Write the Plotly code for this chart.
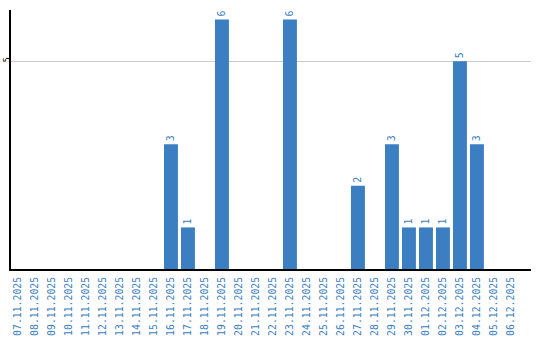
import plotly.graph_objects as go

dates = ["07.11.2025", "08.11.2025", "09.11.2025", "10.11.2025", "11.11.2025",
         "12.11.2025", "13.11.2025", "14.11.2025", "15.11.2025", "16.11.2025",
         "17.11.2025", "18.11.2025", "19.11.2025", "20.11.2025", "21.11.2025",
         "22.11.2025", "23.11.2025", "24.11.2025", "25.11.2025", "26.11.2025",
         "27.11.2025", "28.11.2025", "29.11.2025", "30.11.2025", "01.12.2025",
         "02.12.2025", "03.12.2025", "04.12.2025", "05.12.2025", "06.12.2025"]
values = [0, 0, 0, 0, 0, 0, 0, 0, 0, 3,
          1, 0, 6, 0, 0, 0, 6, 0, 0, 0,
          2, 0, 3, 1, 1, 1, 5, 3, 0, 0]

labels = [str(v) if v > 0 else "" for v in values]
blue = "#3b7ec2"

fig = go.Figure(go.Bar(
    x=list(range(len(dates))), y=values,
    marker=dict(color=blue, line=dict(width=0)),
    text=labels, textposition="outside", textangle=-90,
    textfont=dict(family="DejaVu Sans Mono", size=10, color=blue),
    cliponaxis=False,
))

fig.update_layout(
    width=540, height=340,
    margin=dict(l=11, r=9, t=10, b=71),
    paper_bgcolor="white", plot_bgcolor="white",
    bargap=0.18, showlegend=False,
    font=dict(family="DejaVu Sans Mono"),
    xaxis=dict(
        range=[-0.41, 30.18], automargin=False,
        tickmode="array", tickvals=list(range(len(dates))), ticktext=dates,
        tickangle=-90, tickfont=dict(size=9.8, color=blue),
        ticks="outside", ticklen=2, tickcolor="rgba(0,0,0,0)",
        showline=True, linecolor="black", linewidth=2,
        showgrid=False, zeroline=False,
    ),
    yaxis=dict(
        range=[0, 6.23], automargin=False,
        tickvals=[5], ticktext=["5"], tickangle=-90,
        tickfont=dict(size=9, color="black"),
        ticks="outside", ticklen=0, tickcolor="rgba(0,0,0,0)",
        ticklabelstandoff=-5,
        showline=True, linecolor="black", linewidth=2,
        showgrid=True, gridcolor="#cccccc", gridwidth=1,
        zeroline=False,
    ),
)

fig.write_html("out.html")
